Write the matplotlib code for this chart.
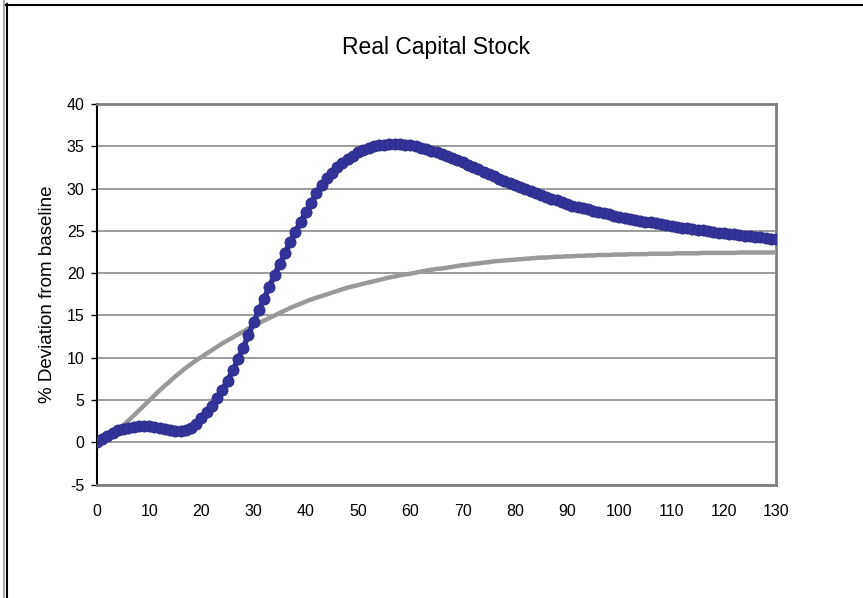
import numpy as np
import matplotlib.pyplot as plt
from matplotlib.lines import Line2D

plt.rcParams['font.family'] = ['Liberation Sans', 'DejaVu Sans']
plt.rcParams['axes.unicode_minus'] = False

# periods 0..130
periods = np.arange(0, 131)

# blue series (markers at every period)
scenario_a = [
    0.0, 0.35, 0.75, 1.1, 1.4, 1.6, 1.75, 1.85, 1.9, 1.9,
    1.88, 1.8, 1.7, 1.6, 1.45, 1.35, 1.3, 1.4, 1.7, 2.2,
    2.9, 3.6, 4.3, 5.2, 6.2, 7.3, 8.5, 9.8, 11.2, 12.7,
    14.2, 15.6, 17.0, 18.4, 19.8, 21.1, 22.4, 23.7, 24.9, 26.1,
    27.2, 28.3, 29.5, 30.4, 31.2, 31.9, 32.5, 33.0, 33.5, 33.9,
    34.3, 34.6, 34.85, 35.0, 35.1, 35.2, 35.25, 35.25, 35.25, 35.2,
    35.1, 35.0, 34.85, 34.7, 34.5, 34.3, 34.05, 33.85, 33.6, 33.35,
    33.1, 32.85, 32.55, 32.3, 32.0, 31.7, 31.45, 31.15, 30.9, 30.65,
    30.4, 30.15, 29.95, 29.7, 29.45, 29.25, 29.0, 28.8, 28.6, 28.4,
    28.2, 28.0, 27.85, 27.7, 27.55, 27.4, 27.25, 27.1, 26.95, 26.8,
    26.7, 26.55, 26.45, 26.3, 26.2, 26.1, 26.0, 25.9, 25.8, 25.7,
    25.6, 25.5, 25.4, 25.3, 25.2, 25.15, 25.05, 24.95, 24.9, 24.8,
    24.75, 24.65, 24.6, 24.5, 24.45, 24.4, 24.3, 24.25, 24.2, 24.1,
    24.05,
]

# grey series
scenario_b = [
    0.0, 0.2, 0.5, 0.9, 1.4, 2.0, 2.55, 3.15, 3.75, 4.35,
    4.95, 5.55, 6.15, 6.7, 7.25, 7.8, 8.3, 8.8, 9.25, 9.7,
    10.1, 10.5, 10.9, 11.3, 11.7, 12.05, 12.4, 12.75, 13.1, 13.45,
    13.8, 14.1, 14.4, 14.7, 15.0, 15.3, 15.6, 15.9, 16.15, 16.4,
    16.65, 16.9, 17.1, 17.3, 17.5, 17.7, 17.9, 18.1, 18.3, 18.45,
    18.6, 18.75, 18.9, 19.05, 19.2, 19.35, 19.5, 19.6, 19.75, 19.85,
    19.95, 20.05, 20.2, 20.3, 20.4, 20.5, 20.55, 20.65, 20.75, 20.85,
    20.95, 21.0, 21.1, 21.15, 21.25, 21.3, 21.4, 21.45, 21.5, 21.55,
    21.6, 21.65, 21.7, 21.75, 21.8, 21.85, 21.85, 21.9, 21.95, 21.95,
    22.0, 22.0, 22.05, 22.05, 22.1, 22.1, 22.15, 22.15, 22.15, 22.2,
    22.2, 22.2, 22.25, 22.25, 22.25, 22.25, 22.3, 22.3, 22.3, 22.3,
    22.3, 22.35, 22.35, 22.35, 22.35, 22.35, 22.4, 22.4, 22.4, 22.4,
    22.4, 22.4, 22.4, 22.45, 22.45, 22.45, 22.45, 22.45, 22.45, 22.45,
    22.45,
]

x_ticks = list(range(0, 131, 10))
y_ticks = list(range(-5, 41, 5))

fig = plt.figure(figsize=(8.63, 5.98), dpi=100)
ax = fig.add_axes([0.1124, 0.1896, 0.7868, 0.6364])

ax.plot(periods, scenario_b, color='#999999', linewidth=3.2, zorder=3)
ax.plot(periods, scenario_a, color='#333399', linewidth=4, marker='o',
        markersize=8, markerfacecolor='#333399', markeredgecolor='#2b2b85',
        markeredgewidth=0.6, zorder=4)

ax.set_xlim(0, 130)
ax.set_ylim(-5, 40)
ax.set_xticks(x_ticks)
ax.set_yticks(y_ticks)
ax.tick_params(axis='x', length=0, pad=14, labelsize=11.5)
ax.tick_params(axis='y', length=4, width=1, direction='out', pad=5, labelsize=11.5)

ax.grid(axis='y', color='#808080', linewidth=1.1)
ax.set_axisbelow(True)

for side in ['top', 'right', 'bottom']:
    ax.spines[side].set_color('#808080')
    ax.spines[side].set_linewidth(2)
ax.spines['left'].set_color('black')
ax.spines['left'].set_linewidth(1.5)

ax.set_ylabel('% Deviation from baseline', fontsize=13.5, labelpad=8)
fig.text(0.505, 0.921, 'Real Capital Stock', ha='center', va='center', fontsize=16.5)

# outer chart frame
fig.add_artist(Line2D([4 / 863, 4 / 863], [0, 1], transform=fig.transFigure,
                      color='#999999', linewidth=1.2))
fig.add_artist(Line2D([6.5 / 863, 6.5 / 863], [0, 1 - 4 / 598], transform=fig.transFigure,
                      color='black', linewidth=1.5))
fig.add_artist(Line2D([6 / 863, 1], [1 - 4.5 / 598, 1 - 4.5 / 598], transform=fig.transFigure,
                      color='black', linewidth=1.5))

fig.savefig('out.png', dpi=100)
